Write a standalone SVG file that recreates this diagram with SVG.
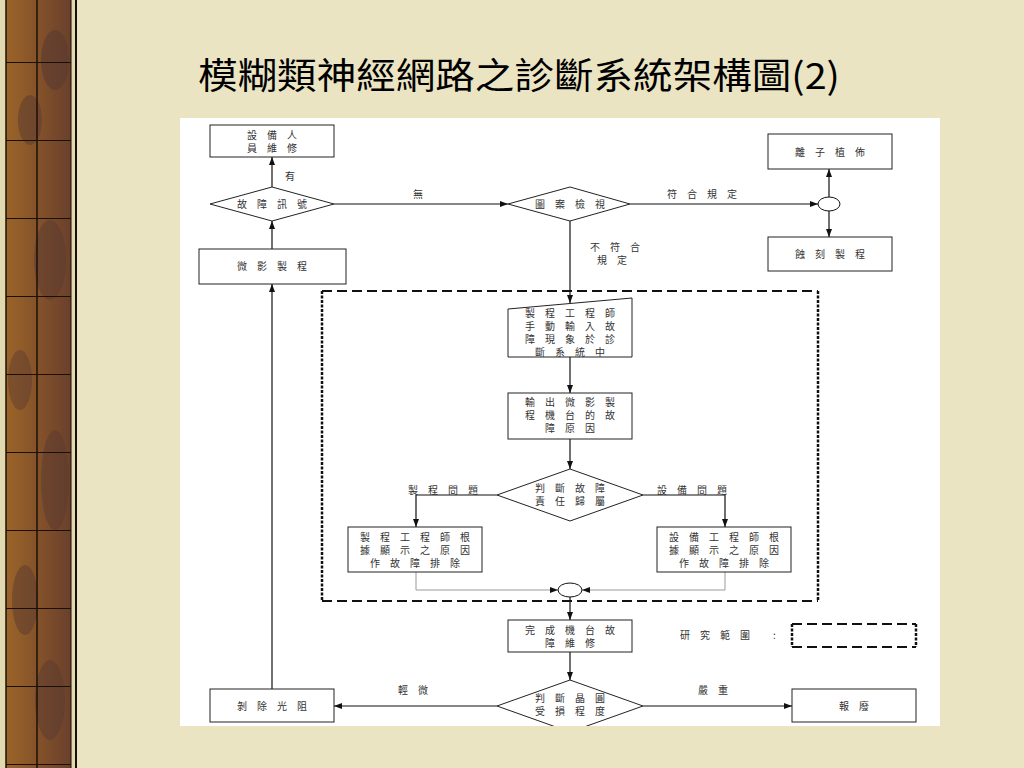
<svg xmlns="http://www.w3.org/2000/svg" width="1024" height="768" viewBox="0 0 1024 768">
<defs>
<style>
.t{font-family:"Noto Sans CJK TC","Noto Sans CJK SC",sans-serif;font-size:10px;letter-spacing:10px;fill:#333;text-anchor:middle}
.lb{font-family:"Noto Sans CJK TC","Noto Sans CJK SC",sans-serif;font-size:10px;letter-spacing:10px;fill:#333}
.box{fill:#fff;stroke:#222;stroke-width:1}
.ln{fill:none;stroke:#111;stroke-width:1.2}
.lg{fill:none;stroke:#999;stroke-width:1}
.dh{fill:none;stroke:#111;stroke-width:2;stroke-dasharray:10 5}
.dv{fill:none;stroke:#111;stroke-width:2.5;stroke-dasharray:3 1.5}
</style>
<marker id="ah" markerUnits="userSpaceOnUse" markerWidth="8" markerHeight="6" refX="8" refY="3" orient="auto">
<path d="M0,0 L8,3 L0,6 z" fill="#111"/>
</marker>
<linearGradient id="wood" x1="0" y1="0" x2="1" y2="0">
<stop offset="0" stop-color="#9a6428"/>
<stop offset="0.5" stop-color="#84522a"/>
<stop offset="1" stop-color="#6a402c"/>
</linearGradient>
<pattern id="grid" width="78" height="78" patternUnits="userSpaceOnUse" y="62">
<line x1="0" y1="0" x2="78" y2="0" stroke="#1a1008" stroke-width="2"/>
</pattern>
<clipPath id="panel"><rect x="180" y="118" width="760" height="608"/></clipPath>
</defs>

<!-- background -->
<rect x="0" y="0" width="1024" height="768" fill="#EAE4C3"/>
<g id="woodstrip">
<rect x="0" y="0" width="77" height="768" fill="#E2D9B0"/>
<rect x="6" y="0" width="65" height="768" fill="url(#wood)"/>
<ellipse cx="55" cy="60" rx="14" ry="30" fill="#5a3a30" opacity="0.6"/>
<ellipse cx="30" cy="120" rx="12" ry="25" fill="#5a3a30" opacity="0.5"/>
<ellipse cx="50" cy="260" rx="16" ry="40" fill="#5a3a30" opacity="0.5"/>
<ellipse cx="20" cy="380" rx="12" ry="30" fill="#5a3a30" opacity="0.45"/>
<ellipse cx="55" cy="480" rx="14" ry="50" fill="#5a3a30" opacity="0.5"/>
<ellipse cx="25" cy="600" rx="13" ry="35" fill="#5a3a30" opacity="0.5"/>
<ellipse cx="50" cy="700" rx="15" ry="40" fill="#5a3a30" opacity="0.5"/>
<rect x="6" y="0" width="65" height="768" fill="url(#grid)"/>
<line x1="6" y1="0" x2="6" y2="768" stroke="#1a1008" stroke-width="1.5"/>
<line x1="37" y1="0" x2="37" y2="768" stroke="#1a1008" stroke-width="1.5"/>
<line x1="71" y1="0" x2="71" y2="768" stroke="#1a1008" stroke-width="1"/>
<line x1="76" y1="0" x2="76" y2="768" stroke="#1a1008" stroke-width="2"/>
</g>

<!-- title -->
<text x="198" y="89" font-family="'Noto Sans CJK TC','Noto Sans CJK SC',sans-serif" font-size="36" fill="#000" textLength="642" lengthAdjust="spacingAndGlyphs">模糊類神經網路之診斷系統架構圖(2)</text>

<!-- white panel -->
<rect x="180" y="118" width="760" height="608" fill="#fff"/>

<g clip-path="url(#panel)">
<!-- research scope dashed region -->
<g id="scope">
<line class="dh" x1="322" y1="291" x2="818" y2="291"/>
<line class="dh" x1="322" y1="601" x2="818" y2="601"/>
<line class="dv" x1="322" y1="291" x2="322" y2="601"/>
<line class="dv" x1="818" y1="291" x2="818" y2="601"/>
</g>

<!-- connectors -->
<g id="connectors">
<line class="ln" x1="272" y1="187" x2="272" y2="157" marker-end="url(#ah)"/>
<line class="ln" x1="334" y1="204" x2="508" y2="204" marker-end="url(#ah)"/>
<line class="ln" x1="630" y1="204" x2="818" y2="204" marker-end="url(#ah)"/>
<line class="ln" x1="829" y1="197" x2="829" y2="169" marker-end="url(#ah)"/>
<line class="ln" x1="829" y1="211" x2="829" y2="237" marker-end="url(#ah)"/>
<line class="ln" x1="570" y1="221" x2="570" y2="303" marker-end="url(#ah)"/>
<line class="ln" x1="570" y1="357" x2="570" y2="393" marker-end="url(#ah)"/>
<line class="ln" x1="570" y1="439" x2="570" y2="469" marker-end="url(#ah)"/>
<polyline class="ln" points="497,495 416,495 416,527" marker-end="url(#ah)"/>
<polyline class="ln" points="643,495 725,495 725,527" marker-end="url(#ah)"/>
<polyline class="lg" points="416,572 416,590 558,590" marker-end="url(#ah)"/>
<polyline class="lg" points="725,572 725,590 582,590" marker-end="url(#ah)"/>
<line class="ln" x1="570" y1="597" x2="570" y2="620" marker-end="url(#ah)"/>
<line class="ln" x1="570" y1="652" x2="570" y2="680" marker-end="url(#ah)"/>
<line class="ln" x1="497" y1="706" x2="334" y2="706" marker-end="url(#ah)"/>
<line class="ln" x1="643" y1="706" x2="792" y2="706" marker-end="url(#ah)"/>
<line class="ln" x1="272" y1="689" x2="272" y2="284" marker-end="url(#ah)"/>
<line class="ln" x1="272" y1="249" x2="272" y2="221" marker-end="url(#ah)"/>
<text class="lb" x="285" y="180">有</text>
<text class="lb" x="413" y="198">無</text>
<text class="lb" x="667" y="198">符合規定</text>
<text class="lb" x="590" y="251">不符合</text>
<text class="lb" x="597" y="264">規定</text>
<text class="lb" x="408" y="494">製程問題</text>
<text class="lb" x="657" y="494">設備問題</text>
<text class="lb" x="398" y="694">輕微</text>
<text class="lb" x="698" y="694">嚴重</text>
</g>

<!-- nodes -->
<g id="n-maint">
<rect class="box" x="210" y="125" width="124" height="32"/>
<text class="t" x="277" y="139">設備人</text>
<text class="t" x="277" y="152">員維修</text>
</g>
<g id="n-fault">
<polygon class="box" points="210,204 272,187 334,204 272,221"/>
<text class="t" x="277" y="208">故障訊號</text>
</g>
<g id="n-pattern">
<polygon class="box" points="508,204 570,187 630,204 570,221"/>
<text class="t" x="575" y="208">圖案檢視</text>
</g>
<g id="n-junction1">
<ellipse cx="829" cy="204" rx="11" ry="7" fill="#fff" stroke="#111" stroke-width="1"/>
</g>
<g id="n-implant">
<rect class="box" x="768" y="134" width="124" height="35"/>
<text class="t" x="835" y="156">離子植佈</text>
</g>
<g id="n-etch">
<rect class="box" x="768" y="237" width="124" height="34"/>
<text class="t" x="835" y="258">蝕刻製程</text>
</g>
<g id="n-litho">
<rect class="box" x="199" y="249" width="147" height="35"/>
<text class="t" x="277" y="270">微影製程</text>
</g>
<g id="n-input">
<polygon class="box" points="508,309 632,298 632,357 508,357"/>
<text class="t" x="575" y="317">製程工程師</text>
<text class="t" x="575" y="330">手動輸入故</text>
<text class="t" x="575" y="343">障現象於診</text>
<text class="t" x="575" y="356">斷系統中</text>
</g>
<g id="n-output">
<rect class="box" x="508" y="393" width="124" height="46"/>
<text class="t" x="575" y="406">輸出微影製</text>
<text class="t" x="575" y="419">程機台的故</text>
<text class="t" x="575" y="432">障原因</text>
</g>
<g id="n-resp">
<polygon class="box" points="497,495 570,469 643,495 570,521"/>
<text class="t" x="575" y="492">判斷故障</text>
<text class="t" x="575" y="505">責任歸屬</text>
</g>
<g id="n-proc">
<rect class="box" x="348" y="527" width="134" height="45"/>
<text class="t" x="420" y="541">製程工程師根</text>
<text class="t" x="420" y="554">據顯示之原因</text>
<text class="t" x="420" y="567">作故障排除</text>
</g>
<g id="n-equip">
<rect class="box" x="657" y="527" width="134" height="45"/>
<text class="t" x="729" y="541">設備工程師根</text>
<text class="t" x="729" y="554">據顯示之原因</text>
<text class="t" x="729" y="567">作故障排除</text>
</g>
<g id="n-junction2">
<ellipse cx="570" cy="590" rx="12" ry="7" fill="#fff" stroke="#111" stroke-width="1"/>
</g>
<g id="n-done">
<rect class="box" x="508" y="620" width="124" height="32"/>
<text class="t" x="575" y="634">完成機台故</text>
<text class="t" x="575" y="647">障維修</text>
</g>
<g id="n-damage">
<polygon class="box" points="497,706 570,680 643,706 570,732"/>
<text class="t" x="575" y="702">判斷晶圓</text>
<text class="t" x="575" y="715">受損程度</text>
</g>
<g id="n-strip">
<rect class="box" x="210" y="689" width="124" height="33"/>
<text class="t" x="277" y="710">剝除光阻</text>
</g>
<g id="n-scrap">
<rect class="box" x="792" y="689" width="124" height="33"/>
<text class="t" x="859" y="710">報廢</text>
</g>
<g id="legend">
<text class="lb" x="680" y="639">研究範圍</text>
<text class="lb" x="773" y="639">:</text>
<line class="dh" x1="792" y1="624" x2="916" y2="624"/>
<line class="dh" x1="792" y1="647" x2="916" y2="647"/>
<line class="dv" x1="792" y1="624" x2="792" y2="647"/>
<line class="dv" x1="916" y1="624" x2="916" y2="647"/>
</g>
</g>
</svg>
